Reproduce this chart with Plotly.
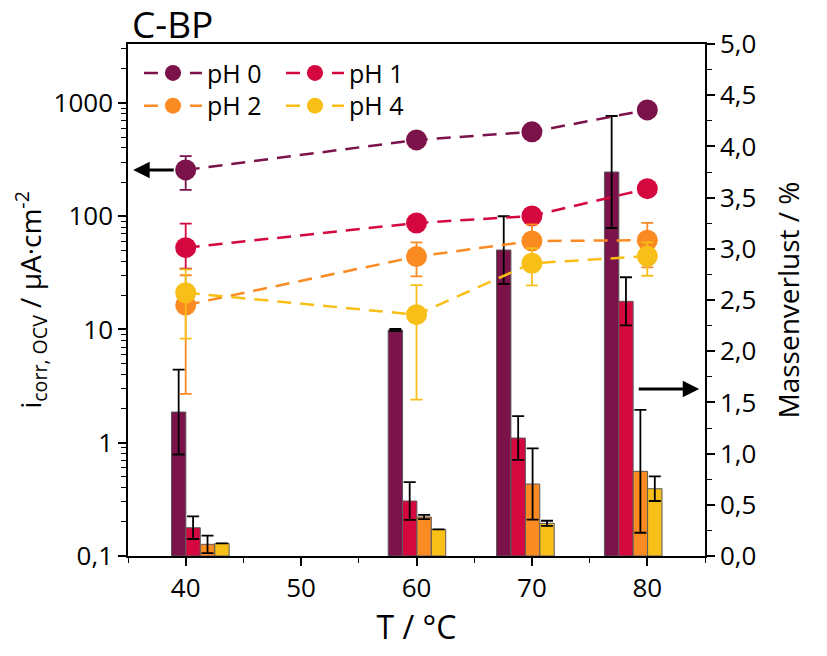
import plotly.graph_objects as go

# ---------------- data ----------------
temps = [40, 60, 70, 80]
series_names = ["pH 0", "pH 1", "pH 2", "pH 4"]
colors = ["#7b1249", "#d4073f", "#fa8a22", "#f7bf17"]

# corrosion current density (left, log axis)
icorr_ph0 = [256, 471, 555, 867]
icorr_ph1 = [52.7, 87.1, 100.5, 175]
icorr_ph2 = [16.4, 44.0, 60.4, 61.3]
icorr_ph4 = [21.1, 13.5, 38.4, 44.3]
icorr_err_plus_ph0 = [83, 0, 0, 0]
icorr_err_minus_ph0 = [85, 0, 0, 0]
icorr_err_plus_ph1 = [33.2, 0, 0, 0]
icorr_err_minus_ph1 = [18.2, 0, 0, 0]
icorr_err_ph2 = [13.7, 14.6, 24.0, 26.0]
icorr_err_ph4 = [12.8, 11.1, 13.9, 14.5]

# mass loss (right, linear axis) - bar positions along T
bar_x_ph0 = [39.39, 58.17, 67.56, 76.91]
bar_x_ph1 = [40.64, 59.41, 68.81, 78.15]
bar_x_ph2 = [41.89, 60.66, 70.06, 79.40]
bar_x_ph4 = [43.14, 61.91, 71.31, 80.65]
mass_ph0 = [1.406, 2.207, 2.988, 3.75]
mass_ph1 = [0.276, 0.537, 1.152, 2.487]
mass_ph2 = [0.114, 0.381, 0.703, 0.827]
mass_ph4 = [0.124, 0.260, 0.319, 0.657]
mass_err_ph0 = [0.415, 0.01, 0.33, 0.547]
mass_err_ph1 = [0.11, 0.185, 0.213, 0.235]
mass_err_ph2 = [0.085, 0.02, 0.348, 0.60]
mass_err_ph4 = [0, 0, 0.025, 0.12]

x_ticks = [40, 50, 60, 70, 80]
left_ticks = [0.1, 1, 10, 100, 1000]
left_ticktext = ["0,1", "1", "10", "100", "1000"]
left_minor = [m * d for d in (0.1, 1, 10, 100, 1000) for m in range(2, 10) if m * d < 3300]

FONT = "Open Sans"

fig = go.Figure()

bars = [
    (bar_x_ph0, mass_ph0, mass_err_ph0),
    (bar_x_ph1, mass_ph1, mass_err_ph1),
    (bar_x_ph2, mass_ph2, mass_err_ph2),
    (bar_x_ph4, mass_ph4, mass_err_ph4),
]
for (bx, by, be), c in zip(bars, colors):
    fig.add_trace(go.Bar(
        x=bx, y=by, width=1.246, yaxis="y",
        marker=dict(color=c, line=dict(color="#5a5a5a", width=1)),
        error_y=dict(type="data", array=be, color="black", thickness=1.8, width=6, visible=True),
        showlegend=False, hoverinfo="skip",
    ))

scat = [
    (icorr_ph0, icorr_err_plus_ph0, icorr_err_minus_ph0),
    (icorr_ph1, icorr_err_plus_ph1, icorr_err_minus_ph1),
    (icorr_ph2, icorr_err_ph2, icorr_err_ph2),
    (icorr_ph4, icorr_err_ph4, icorr_err_ph4),
]
legends = ["legend", "legend", "legend2", "legend2"]
for (sy, ep, em), c, n, lg in zip(scat, colors, series_names, legends):
    fig.add_trace(go.Scatter(
        x=temps, y=sy, name=n, yaxis="y2", mode="lines+markers",
        line=dict(color=c, width=2.5, dash="14px,9px"),
        marker=dict(color=c, size=21),
        error_y=dict(type="data", array=ep, arrayminus=em, symmetric=False,
                     color=c, thickness=1.8, width=6, visible=True),
        legend=lg,
    ))

axis_common = dict(showline=True, linecolor="black", linewidth=1.5, ticks="outside",
                   tickcolor="black", tickwidth=1.5, ticklen=8, showgrid=False, zeroline=False,
                   automargin=False,
                   tickfont=dict(family=FONT, size=26, color="black"))

legend_common = dict(orientation="h", xanchor="left", yanchor="middle",
                     entrywidth=69, itemwidth=58, bgcolor="rgba(0,0,0,0)",
                     font=dict(family=FONT, size=25), traceorder="normal", itemsizing="trace")

fig.update_layout(
    width=811, height=640,
    margin=dict(l=120, r=114, t=36, b=92),
    paper_bgcolor="white", plot_bgcolor="white",
    separators=",.",
    barmode="overlay",
    font=dict(family=FONT, color="black"),
    xaxis=dict(range=[35, 85], tick0=40, dtick=10, mirror=True,
               minor=dict(ticks="outside", dtick=5, tick0=35, ticklen=5, tickwidth=1.3, tickcolor="black"),
               title=dict(text="T / °C", font=dict(family=FONT, size=32), standoff=28),
               **axis_common),
    yaxis=dict(range=[0, 5], dtick=0.5, tickformat=".1f", side="right",
               minor=dict(ticks="outside", dtick=0.25, ticklen=5, tickwidth=1.3, tickcolor="black"),
               title=dict(text="Massenverlust / %", font=dict(family=FONT, size=28), standoff=24),
               **axis_common),
    yaxis2=dict(type="log", range=[-1, 3.52], overlaying="y", side="left",
                tickmode="array", tickvals=left_ticks, ticktext=left_ticktext,
                minor=dict(ticks="outside", tickmode="array", tickvals=left_minor, ticklen=5,
                           tickwidth=1.3, tickcolor="black"),
                title=dict(text="i<sub>corr, OCV</sub> / µA·cm<sup>-2</sup>",
                           font=dict(family=FONT, size=28), standoff=8),
                **axis_common),
    legend=dict(x=0.019, y=0.943, **legend_common),
    legend2=dict(x=0.019, y=0.879, **legend_common),
    annotations=[
        dict(text="C-BP", xref="paper", yref="paper", x=0.0, y=1.0, xanchor="left", yanchor="bottom",
             xshift=2, yshift=-7, showarrow=False, font=dict(family=FONT, size=37, color="black")),
        dict(text="", xref="paper", yref="paper", x=0.009, y=0.754, ax=42, ay=0,
             showarrow=True, arrowhead=2, arrowsize=1.1, arrowwidth=3, arrowcolor="black"),
        dict(text="", xref="paper", yref="paper", x=0.990, y=0.326, ax=-62, ay=0,
             showarrow=True, arrowhead=2, arrowsize=1.1, arrowwidth=3, arrowcolor="black"),
    ],
)

fig.write_html("out.html")
